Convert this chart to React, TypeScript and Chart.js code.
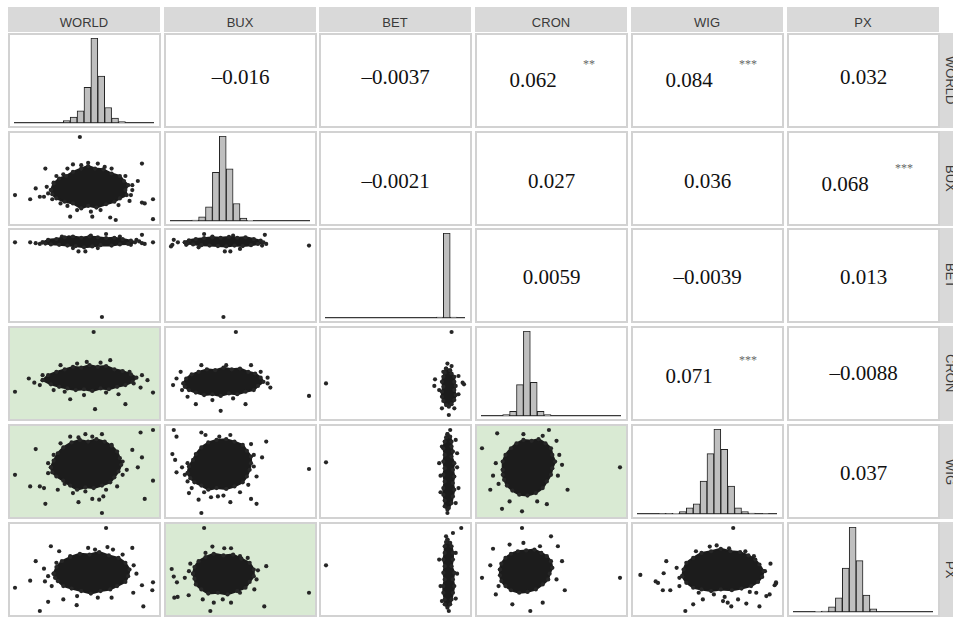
import React, { useEffect, useRef } from 'react';
import { Chart, registerables } from 'chart.js';
Chart.register(...registerables);

// ---------------- data ----------------
const variables = ['WORLD', 'BUX', 'BET', 'CRON', 'WIG', 'PX'];

// histogram bin heights (relative counts, 20 equal bins over each variable's range)
const histWORLD = [0, 0, 0, 0, 0, 0, 0, 7, 18, 37, 108, 257, 142, 47, 15, 4, 0, 0, 0, 0];
const histBUX = [0, 0, 0, 3, 13, 43, 148, 258, 158, 53, 9, 2, 0, 0, 0, 0, 0, 0, 0, 0];
const histBET = [0, 0, 0, 0, 0, 0, 0, 0, 0, 0, 0, 0, 0, 0, 0, 0, 3, 260, 3, 0];
const histCRON = [0, 0, 0, 4, 14, 95, 257, 102, 14, 4, 0, 0, 0, 0, 0, 0, 0, 0, 0, 0];
const histWIG = [0, 0, 0, 1, 1, 2, 7, 19, 31, 100, 184, 259, 197, 85, 19, 7, 3, 0, 1, 0];
const histPX = [0, 0, 0, 2, 3, 16, 43, 133, 258, 156, 51, 10, 0, 0, 0, 0, 0, 0, 0, 0];
const histograms = [histWORLD, histBUX, histBET, histCRON, histWIG, histPX];

// correlations (upper triangle) and significance stars
const corrText = [
  ['', '–0.016', '–0.0037', '0.062', '0.084', '0.032'],
  ['', '', '–0.0021', '0.027', '0.036', '0.068'],
  ['', '', '', '0.0059', '–0.0039', '0.013'],
  ['', '', '', '', '0.071', '–0.0088'],
  ['', '', '', '', '', '0.037'],
  ['', '', '', '', '', ''],
];
const corrStars = [
  ['', '', '', '**', '***', ''],
  ['', '', '', '', '', '***'],
  ['', '', '', '', '', ''],
  ['', '', '', '', '***', ''],
  ['', '', '', '', '', ''],
  ['', '', '', '', '', ''],
];

// scatter panels, values scaled 0..100 over each variable's range
// core = outline of the dense cloud, pts = individual observations around it
const core_BUX_WORLD = [[26, 36], [28, 44], [32, 50], [37, 53], [42, 58], [48, 62], [53, 65], [58, 62], [64, 61], [70, 56], [76, 53], [79, 47], [82, 42], [80, 36], [81, 30], [76, 26], [72, 22], [66, 19], [59, 15], [53, 17], [48, 14], [42, 20], [36, 22], [30, 26], [27, 31]];
const pts_BUX_WORLD = [[47, 100], [22, 62], [92, 68], [0, 30], [100, 25], [100, 1], [11, 25], [15, 38], [18, 28], [21, 28], [40, 4], [56, 4], [69, 3], [73, 0], [89, 47], [85, 42], [83, 23], [92, 21], [94, 20], [53, 69], [42, 67], [38, 62], [80, 53], [27, 25], [35, 55], [60, 68], [70, 62], [78, 46], [85, 36], [75, 18], [62, 12], [45, 12], [33, 20], [24, 32], [28, 45], [48, 66], [23, 40], [30, 53], [65, 64], [84, 30], [55, 10], [38, 17]];

const core_BET_WORLD = [[20, 90], [24, 93], [30, 94], [36, 96], [42, 97], [48, 95.5], [54, 97], [60, 96], [66, 95], [72, 95.5], [78, 94], [84, 92], [87, 90], [82, 88], [76, 87.5], [70, 86], [62, 86.5], [56, 85], [50, 84], [44, 85.5], [38, 86], [32, 87], [26, 87.5], [22, 88.5]];
const pts_BET_WORLD = [[0, 90], [11, 90], [15, 89], [18, 88], [66, 100], [92, 99], [100, 90], [92, 89], [94, 88], [46, 79], [51, 79], [39, 96], [63, 0], [55, 98], [30, 93], [84, 87], [88, 93], [42, 83], [60, 83], [72, 92], [34, 97], [76, 97], [90, 91]];

const core_BET_BUX = [[10, 90], [13, 92.5], [18, 94], [24, 95], [30, 96], [36, 95.5], [42, 96.5], [48, 95.5], [54, 96], [60, 94], [65, 92], [67, 90], [63, 88], [58, 86.5], [52, 85.5], [46, 86], [40, 85], [34, 85.5], [28, 86], [22, 86.5], [16, 87.5], [12, 88.5]];
const pts_BET_BUX = [[0, 85], [1, 87], [2, 93], [24, 100], [68, 99], [100, 86], [38, 0], [39, 79], [43, 79], [50, 82], [69, 88], [11, 87], [12, 90], [5, 90], [30, 97], [58, 92], [66, 86], [45, 98], [20, 84]];

const core_CRON_WORLD = [[20, 42], [24, 48], [30, 52], [36, 55], [42, 58], [48, 57], [54, 60], [60, 58], [66, 59], [72, 55], [78, 53], [84, 49], [88, 45], [85, 40], [80, 36], [74, 34], [68, 31], [62, 32], [56, 29], [50, 31], [44, 30], [38, 32], [32, 34], [26, 37]];
const pts_CRON_WORLD = [[57, 100], [0, 28], [96, 42], [100, 27], [14, 39], [33, 60], [69, 66], [80, 13], [58, 7], [40, 19], [83, 52], [91, 33], [10, 44], [45, 62], [62, 63], [75, 25], [50, 24], [28, 30], [92, 48], [20, 48], [18, 36], [86, 38], [52, 64], [66, 27], [36, 28]];

const core_CRON_BUX = [[9, 38], [11, 44], [15, 49], [20, 52], [26, 55], [32, 54], [38, 57], [44, 55], [50, 56], [56, 52], [61, 50], [65, 45], [67, 40], [63, 35], [60, 30], [54, 28], [48, 25], [42, 26], [36, 23], [30, 25], [24, 24], [18, 27], [13, 30], [10, 34]];
const pts_CRON_BUX = [[47, 100], [1.5, 36], [100, 23], [36, 5], [7, 52], [65, 52], [18, 13], [54, 13], [72, 33], [22, 60], [4, 44], [70, 45], [30, 18], [45, 20], [58, 60], [12, 22], [70, 38], [40, 60], [8, 30]];

const core_CRON_BET = [[87, 56], [90, 54], [91, 50], [93, 46], [93, 40], [94, 35], [93, 30], [94, 24], [93, 18], [91, 13], [89, 10], [87, 12], [85, 17], [84, 22], [84, 28], [85, 34], [84, 40], [85, 46], [86, 51]];
const pts_CRON_BET = [[91, 100], [91, 59], [0, 38], [99, 39], [100, 37], [79, 43], [78.5, 35], [89, 0], [88, 62], [84, 8], [93, 8], [96, 25], [82, 30], [96, 47], [85, 52]];

const core_WIG_WORLD = [[26, 55], [28, 63], [31, 72], [35, 79], [41, 85], [47, 88], [53, 86], [59, 89], [65, 86], [70, 81], [74, 74], [76, 66], [77, 58], [75, 50], [72, 43], [69, 37], [63, 33], [57, 30], [51, 31], [45, 28], [40, 33], [35, 39], [30, 44], [27, 49]];
const pts_WIG_WORLD = [[100, 100], [91, 97], [51, 95], [63, 95], [40, 92], [15, 77], [0, 46], [11, 32], [18, 32], [21, 30], [22, 11], [63, 0], [46, 13], [56, 17], [61, 16], [64, 20], [94, 17], [100, 39], [89, 55], [92, 67], [85, 76], [31, 28], [42, 24], [51, 26], [74, 32], [81, 52], [24, 60], [28, 70], [70, 82], [56, 92], [78, 62], [36, 35], [66, 28], [33, 84], [78, 46], [24, 48], [46, 91]];

const core_WIG_BUX = [[12, 48], [13, 56], [16, 64], [18, 71], [22, 79], [27, 85], [33, 88], [40, 89], [46, 86], [52, 82], [55, 75], [58, 68], [58, 60], [57, 52], [55, 44], [52, 37], [46, 32], [40, 29], [33, 30], [27, 28], [22, 33], [17, 37], [14, 42]];
const pts_WIG_BUX = [[2, 100], [4, 92], [22, 97], [25, 94], [43, 94], [69, 86], [1, 71], [3, 64], [4, 49], [12, 60], [12, 38], [13, 24], [20, 16], [22, 0], [29, 19], [34, 20], [38, 21], [43, 13], [58, 17], [62, 11], [56, 34], [62, 44], [66, 67], [100, 53], [58, 83], [8, 55], [35, 92], [60, 70], [50, 25], [15, 30], [10, 46], [60, 56], [24, 25]];

const core_WIG_BET = [[88, 95], [90, 92], [91, 86], [91, 80], [92, 74], [91, 68], [93, 60], [92, 52], [93, 44], [92, 36], [93, 28], [92, 20], [91, 12], [89, 6], [88, 4], [86, 8], [86, 15], [85, 22], [85, 30], [86, 38], [85, 46], [86, 54], [85, 62], [86, 70], [85, 78], [86, 86], [87, 91]];
const pts_WIG_BET = [[0, 61], [90, 100], [95, 72], [83, 45], [96, 30], [88, 0], [82, 60], [94, 88], [83, 25], [95, 55], [84, 80], [94, 12]];

const core_WIG_CRON = [[15, 52], [15, 62], [17, 70], [21, 78], [25, 84], [30, 88], [36, 87], [41, 89], [46, 84], [50, 78], [51, 70], [53, 62], [51, 54], [50, 46], [47, 38], [44, 30], [39, 24], [33, 21], [27, 22], [22, 27], [18, 33], [16, 40], [15, 46]];
const pts_WIG_CRON = [[100, 55], [0, 78], [48.5, 100], [54, 87], [58, 58], [14.5, 5], [29, 2], [47, 10.6], [6, 28], [62, 28], [11, 96], [10, 60], [55, 45], [40, 14], [20, 14], [8, 45], [30, 95], [56, 70], [12, 35], [44, 93]];

const core_PX_WORLD = [[28, 45], [30, 53], [34, 60], [40, 65], [47, 69], [54, 68], [61, 71], [68, 67], [75, 64], [80, 58], [83, 50], [82, 42], [80, 35], [74, 30], [69, 26], [62, 24], [55, 21], [48, 24], [41, 27], [35, 30], [31, 36], [29, 40]];
const pts_PX_WORLD = [[66, 100], [26, 78], [32, 72], [53, 76], [67, 77], [71, 74], [85, 76], [15, 60], [21, 51], [0, 28], [11, 36.5], [21.7, 35.6], [26.6, 30], [100, 34.5], [99.5, 25], [92, 31], [24, 11], [18, 0], [35, 14], [44.7, 7], [70, 16], [93, 5.5], [85.7, 22], [88, 45], [45, 18], [60, 16], [78, 68], [40, 66], [24, 42], [86, 55], [58, 74], [30, 58]];

const core_PX_BUX = [[16, 45], [17, 53], [20, 60], [25, 65], [31, 69], [38, 67], [45, 68], [51, 63], [57, 58], [60, 50], [60, 42], [57, 35], [54, 28], [48, 24], [41, 20], [34, 22], [27, 21], [22, 26], [18, 32], [17, 39]];
const pts_PX_BUX = [[24, 100], [30, 77.6], [38.6, 75.6], [43.5, 75.6], [50, 66], [55.6, 64], [69, 54], [14, 57], [0.5, 50.6], [2, 41.5], [4.3, 34.5], [2.4, 16], [4.8, 17], [12.8, 19], [23, 14], [31, 10], [28.5, 0], [37.5, 14], [43.5, 10], [67.6, 5.5], [100, 22], [63, 49], [60.4, 26], [10, 40], [50, 22], [25, 70], [13, 48], [62, 38]];

const core_PX_BET = [[88, 86], [90, 82], [91, 78], [92, 70], [92, 62], [91, 54], [93, 46], [92, 38], [93, 30], [92, 22], [91, 14], [90, 8], [88, 4], [86, 8], [86, 14], [85, 22], [85, 30], [86, 38], [85, 46], [86, 54], [85, 62], [86, 70], [86, 78], [87, 83]];
const pts_PX_BET = [[0, 55], [98, 100], [87, 90], [82, 62], [95, 45], [83, 30], [94, 15], [89, 0], [92, 94], [84, 12], [94, 70]];

const core_PX_CRON = [[13, 50], [14, 57], [17, 64], [21, 69], [26, 72], [32, 73], [38, 74], [43, 70], [47, 66], [50, 60], [51, 52], [49, 45], [48, 38], [44, 32], [39, 26], [33, 23], [27, 22], [21, 25], [17, 30], [14, 36], [13, 43]];
const pts_PX_CRON = [[0, 40], [100, 40], [29, 100], [50, 90], [55, 78], [58, 60], [8, 75], [10, 20], [22, 8], [44, 10], [60, 25], [35, 0], [6, 55], [54, 38], [30, 82], [20, 80], [12, 30], [42, 78]];

const core_PX_WIG = [[32, 42], [33, 50], [35, 58], [40, 64], [46, 70], [53, 72], [60, 75], [67, 72], [74, 71], [80, 67], [85, 62], [88, 56], [91, 48], [90, 41], [87, 35], [82, 30], [75, 27], [68, 25], [60, 26], [53, 24], [46, 26], [40, 28], [35, 34]];
const pts_PX_WIG = [[69, 100], [52, 77.6], [57, 79], [66, 75.6], [77.8, 72], [96, 57], [20.5, 60], [18.6, 45.5], [1.7, 43.5], [12.8, 35.6], [14.5, 33.8], [18, 25], [23.4, 25], [40, 8], [34.3, 0], [47, 14], [61.6, 12], [65, 10], [62.8, 17], [67.6, 5.5], [72.5, 14], [78.5, 9], [88, 5.5], [81, 23], [85.7, 22], [93, 18], [95.4, 20], [100, 34.5], [99, 31], [100, 33], [28, 52], [42, 72], [92, 48], [55, 20], [30, 30], [30, 40], [84, 66], [44, 22]];

const scatterPanels = [
  { row: 1, col: 0, core: core_BUX_WORLD, pts: pts_BUX_WORLD },
  { row: 2, col: 0, core: core_BET_WORLD, pts: pts_BET_WORLD },
  { row: 2, col: 1, core: core_BET_BUX, pts: pts_BET_BUX },
  { row: 3, col: 0, core: core_CRON_WORLD, pts: pts_CRON_WORLD },
  { row: 3, col: 1, core: core_CRON_BUX, pts: pts_CRON_BUX },
  { row: 3, col: 2, core: core_CRON_BET, pts: pts_CRON_BET },
  { row: 4, col: 0, core: core_WIG_WORLD, pts: pts_WIG_WORLD },
  { row: 4, col: 1, core: core_WIG_BUX, pts: pts_WIG_BUX },
  { row: 4, col: 2, core: core_WIG_BET, pts: pts_WIG_BET },
  { row: 4, col: 3, core: core_WIG_CRON, pts: pts_WIG_CRON },
  { row: 5, col: 0, core: core_PX_WORLD, pts: pts_PX_WORLD },
  { row: 5, col: 1, core: core_PX_BUX, pts: pts_PX_BUX },
  { row: 5, col: 2, core: core_PX_BET, pts: pts_PX_BET },
  { row: 5, col: 3, core: core_PX_CRON, pts: pts_PX_CRON },
  { row: 5, col: 4, core: core_PX_WIG, pts: pts_PX_WIG },
];

// ---------------- layout ----------------
const COL0 = 8, COL_PITCH = 155.7, CELL_W = 153;
const ROW0 = 33, ROW_PITCH = 97.7, CELL_H = 95;
const BW = 2;
const INNER_W = CELL_W - 2 * BW;
const INNER_H = CELL_H - 2 * BW;
const PAD = { left: 5, right: 6, top: 3, bottom: 3 };
const TEXT_Y = [77, 181, 277, 373, 473];
const GREEN = '#d9ead3';
const colLeft = (j: number) => Math.round(COL0 + j * COL_PITCH);
const rowTop = (i: number) => Math.round(ROW0 + i * ROW_PITCH);

const baseOptions = () => ({
  animation: false as const,
  responsive: false,
  devicePixelRatio: 1,
  layout: { padding: PAD },
  plugins: { legend: { display: false }, tooltip: { enabled: false } },
  events: [] as any[],
});

function MiniChart({ makeConfig }: { makeConfig: () => any }) {
  const ref = useRef<HTMLCanvasElement | null>(null);
  useEffect(() => {
    const chart = new Chart(ref.current as HTMLCanvasElement, makeConfig());
    return () => chart.destroy();
  }, []);
  return <canvas ref={ref} width={INNER_W} height={INNER_H} style={{ display: 'block', width: INNER_W, height: INNER_H }} />;
}

const histConfig = (counts: number[]) => () => ({
  type: 'bar',
  data: {
    labels: counts.map((_, i) => String(i)),
    datasets: [{
      data: counts,
      backgroundColor: '#bfbfbf',
      borderColor: '#222',
      borderWidth: 1,
      borderSkipped: false,
      barPercentage: 1,
      categoryPercentage: 1,
    }],
  },
  options: {
    ...baseOptions(),
    scales: {
      x: { display: true, grid: { display: false, drawTicks: false }, ticks: { display: false }, border: { display: true, color: '#3a3a3a', width: 1.3 } },
      y: { display: false, min: 0, max: Math.max(...counts) },
    },
  },
});

const DOT = '#262626';
const scatterConfig = (core: number[][], pts: number[][]) => () => ({
  type: 'line',
  data: {
    datasets: [
      {
        data: [...core, core[0]].map(([x, y]) => ({ x, y })),
        fill: 'shape',
        backgroundColor: '#1c1c1c',
        borderColor: '#1c1c1c',
        borderWidth: 2,
        borderJoinStyle: 'round',
        pointRadius: 2.1,
        pointBackgroundColor: DOT,
        pointBorderWidth: 0,
        tension: 0,
        clip: false,
      },
      {
        data: pts.map(([x, y]) => ({ x, y })),
        showLine: false,
        pointRadius: 2.1,
        pointBackgroundColor: DOT,
        pointBorderColor: DOT,
        pointBorderWidth: 0,
        clip: false,
      },
    ],
  },
  options: {
    ...baseOptions(),
    scales: {
      x: { type: 'linear', display: false, min: 0, max: 100 },
      y: { type: 'linear', display: false, min: 0, max: 100 },
    },
  },
});

function Cell({ row, col, bg, children }: { row: number; col: number; bg?: string; children?: any }) {
  return (
    <div style={{
      position: 'absolute', left: colLeft(col), top: rowTop(row), width: CELL_W, height: CELL_H,
      boxSizing: 'border-box', border: `${BW}px solid #d2d2d2`, background: bg || '#fff', overflow: 'hidden',
    }}>{children}</div>
  );
}

const serif = "'Liberation Serif', 'Times New Roman', serif";
const sans = "'Liberation Sans', Arial, sans-serif";

export default function App() {
  const cells: any[] = [];
  // headers
  variables.forEach((v, j) => {
    cells.push(
      <div key={'h' + j} style={{ position: 'absolute', left: colLeft(j), top: 7, width: CELL_W - 1, height: 25, background: '#d9d9d9' }}>
        <div style={{ position: 'absolute', left: 0, right: 0, top: 14.5, transform: 'translateY(-50%)', textAlign: 'center', font: `13px ${sans}`, color: '#3a3a3a', lineHeight: '13px' }}>{v}</div>
      </div>
    );
    cells.push(
      <div key={'s' + j} style={{ position: 'absolute', left: 940, top: rowTop(j), width: 20, height: CELL_H, background: '#d9d9d9', display: 'flex', alignItems: 'center', justifyContent: 'center' }}>
        <span style={{ writingMode: 'vertical-rl', font: `13px ${sans}`, color: '#3a3a3a', lineHeight: '13px' }}>{v}</span>
      </div>
    );
  });
  // diagonal histograms
  histograms.forEach((h, i) => {
    cells.push(<Cell key={'d' + i} row={i} col={i}><MiniChart makeConfig={histConfig(h)} /></Cell>);
  });
  // scatter panels (green background where the correlation is significant)
  scatterPanels.forEach((p) => {
    const bg = corrStars[p.col][p.row] ? GREEN : '#fff';
    cells.push(<Cell key={`sc${p.row}-${p.col}`} row={p.row} col={p.col} bg={bg}><MiniChart makeConfig={scatterConfig(p.core, p.pts)} /></Cell>);
  });
  // correlation text panels
  corrText.forEach((r, i) => r.forEach((t, j) => {
    if (!t) return;
    const stars = corrStars[i][j];
    const L = colLeft(j);
    cells.push(<Cell key={`t${i}-${j}`} row={i} col={j} />);
    const cy = TEXT_Y[i] + (stars ? 3 : 0);
    const cx = stars ? L + 58 : L + CELL_W / 2;
    cells.push(
      <div key={`tx${i}-${j}`} style={{ position: 'absolute', left: cx, top: cy, transform: 'translate(-50%, -50%)', font: `21px ${serif}`, lineHeight: '21px', color: '#111', whiteSpace: 'nowrap' }}>{t}</div>
    );
    if (stars) {
      cells.push(
        <div key={`st${i}-${j}`} style={{ position: 'absolute', left: L + 108, top: TEXT_Y[i] - 13, transform: 'translateY(-50%)', font: `12px ${serif}`, lineHeight: '12px', color: '#666', whiteSpace: 'nowrap' }}>{stars}</div>
      );
    }
  }));
  return (
    <div style={{ position: 'absolute', left: 0, top: 0, width: 953, height: 618, overflow: 'hidden', background: '#fff' }}>
      {cells}
    </div>
  );
}
